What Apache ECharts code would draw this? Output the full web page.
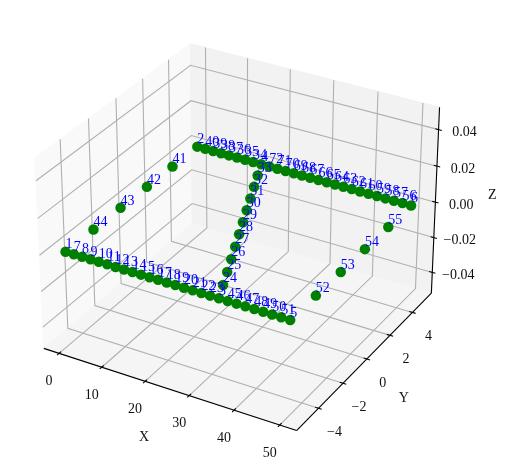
<!DOCTYPE html>
<html><head><meta charset="utf-8">
<style>html,body{margin:0;padding:0;background:#fff}#c{width:505px;height:471px}</style>
<script src="https://cdn.jsdelivr.net/npm/echarts@6/dist/echarts.min.js"></script>
</head><body><div id="c"></div>
<script>
// Node numbers and coordinates
const nodeIds = [1,2,3,4,5,6,7,8,9,10,11,12,13,14,15,16,17,18,19,20,21,22,23,24,25,26,27,28,29,30,31,32,33,34,35,36,37,38,39,40,41,42,43,44,45,46,47,48,49,50,51,52,53,54,55,56,57,58,59,60,61,62,63,64,65,66,67,68,69,70,71,72];
const nodeX = [0,0,34.62,15.38,50,50,
  1.92,3.85,5.77,7.69,9.62,11.54,13.46,15.38,17.31,19.23,21.15,23.08,25,26.92,28.85,30.77,32.69,
  32.87,31.12,29.37,27.62,25.87,24.13,22.38,20.63,18.88,17.13,
  13.46,11.54,9.62,7.69,5.77,3.85,1.92,
  0,0,0,0,
  36.54,38.46,40.38,42.31,44.23,46.15,48.08,
  50,50,50,50,
  48.08,46.15,44.23,42.31,40.38,38.46,36.54,34.62,32.69,30.77,28.85,26.92,25,23.08,21.15,19.23,17.31];
const nodeY = [-5,5,-5,5,-5,5,
  -5,-5,-5,-5,-5,-5,-5,-5,-5,-5,-5,-5,-5,-5,-5,-5,-5,
  -4.09,-3.18,-2.27,-1.36,-0.45,0.45,1.36,2.27,3.18,4.09,
  5,5,5,5,5,5,5,
  3,1,-1,-3,
  -5,-5,-5,-5,-5,-5,-5,
  -3,-1,1,3,
  5,5,5,5,5,5,5,5,5,5,5,5,5,5,5,5,5];
const nodeZ = [0,0,0,0,0,0,0,0,0,0,0,0,0,0,0,0,0,0,0,0,0,0,0,0,0,0,0,0,0,0,0,0,0,0,0,0,0,0,0,0,0,0,0,0,0,0,0,0,0,0,0,0,0,0,0,0,0,0,0,0,0,0,0,0,0,0,0,0,0,0,0,0];

const xTicks = [0,10,20,30,40,50];
const yTicks = [-4,-2,0,2,4];
const zTicks = [-0.04,-0.02,0,0.02,0.04];
const xTickLabels = ['0','10','20','30','40','50'];
const yTickLabels = ['\u22124','\u22122','0','2','4'];
const zTickLabels = ['\u22120.04','\u22120.02','0.00','0.02','0.04'];
const xPane = [-3.646,53.646];
const yPane = [-5.729,5.729];
const zPane = [-0.05208,0.05208];

// Matplotlib-style perspective (elev 30, azim -60, box aspect 4:4:3)
const box = [1.1429,1.1429,0.8571];
const u = [0.8660,0.5,0], v = [-0.25,0.4330,0.8660], w = [0.4330,-0.75,0.5];
const dist = 10;
function proj(p){
  const d = [
    ((p[0]-xPane[0])/(xPane[1]-xPane[0])-0.5)*box[0],
    ((p[1]-yPane[0])/(yPane[1]-yPane[0])-0.5)*box[1],
    ((p[2]-zPane[0])/(zPane[1]-zPane[0])-0.5)*box[2]];
  const dot=(a,b)=>a[0]*b[0]+a[1]*b[1]+a[2]*b[2];
  const den = dist-dot(w,d);
  return [dot(u,d)/den, dot(v,d)/den];
}
const [x0,x1]=xPane,[y0,y1]=yPane,[z0,z1]=zPane;
const panes = [
  {c:'#f9f9f9',p:[[x0,y0,z0],[x0,y0,z1],[x0,y1,z1],[x0,y1,z0]]},
  {c:'#f2f2f2',p:[[x0,y1,z0],[x1,y1,z0],[x1,y1,z1],[x0,y1,z1]]},
  {c:'#f5f5f5',p:[[x0,y0,z0],[x1,y0,z0],[x1,y1,z0],[x0,y1,z0]]}
];
const gridLines = [];
xTicks.forEach(t=>gridLines.push([[t,y0,z0],[t,y1,z0],[t,y1,z1]]));
yTicks.forEach(t=>gridLines.push([[x1,t,z0],[x0,t,z0],[x0,t,z1]]));
zTicks.forEach(t=>gridLines.push([[x0,y0,t],[x0,y1,t],[x1,y1,t]]));
const axisLines = [
  [[x0,y0,z0],[x1,y0,z0]],
  [[x1,y0,z0],[x1,y1,z0]],
  [[x1,y1,z0],[x1,y1,z1]]
];
const tk = 0.0125, dy=(y1-y0)*tk, dx=(x1-x0)*tk;
xTicks.forEach(t=>axisLines.push([[t,y0+dy,z0],[t,y0-dy,z0]]));
yTicks.forEach(t=>axisLines.push([[x1-dx,t,z0],[x1+dx,t,z0]]));
zTicks.forEach(t=>axisLines.push([[x1-dx,y1,t],[x1+dx,y1,t]]));

const dots = nodeIds.map((id,i)=>proj([nodeX[i],nodeY[i],nodeZ[i]]));
const font = 'Liberation Serif';
const lineSeries=(list,color,z)=>({
  type:'custom',coordinateSystem:'cartesian2d',clip:false,silent:true,z,
  data:list.map((_,i)=>[i]),encode:{x:0,y:0},
  renderItem:(params,api)=>({type:'polyline',
    shape:{points:list[api.value(0)].map(p=>api.coord(proj(p)))},
    style:{stroke:color,lineWidth:1.1,fill:null}})
});
const textSeries=(items,off,color,z,align)=>({
  type:'scatter',symbolSize:0,silent:true,z,clip:false,itemStyle:{opacity:1},
  data:items.map(t=>({value:proj(t.p),label:{formatter:t.s}})),
  label:{show:true,position:'inside',align:align||'center',verticalAlign:'middle',offset:off,
    fontFamily:font,fontSize:14,color,opacity:1}
});
const black='#111';
const option={
  animation:false,backgroundColor:'#fff',
  grid:{left:0,right:0,top:0,bottom:0,containLabel:false},
  xAxis:{type:'value',show:false,min:-0.09507,max:0.10414},
  yAxis:{type:'value',show:false,min:-0.09578,max:0.09002},
  series:[
    {type:'custom',coordinateSystem:'cartesian2d',clip:false,silent:true,z:1,
     data:panes.map((_,i)=>[i]),encode:{x:0,y:0},
     renderItem:(params,api)=>{const P=panes[api.value(0)];
       return {type:'polygon',shape:{points:P.p.map(p=>api.coord(proj(p)))},style:{fill:P.c,stroke:P.c}};}},
    lineSeries(gridLines,'#b0b0b0',2),
    lineSeries(axisLines,'#000',3),
    textSeries(xTicks.map((t,i)=>({p:[t,y0,z0],s:xTickLabels[i]})),[-10,28],black,4),
    textSeries(yTicks.map((t,i)=>({p:[x1,t,z0],s:yTickLabels[i]})),[16,24],black,4),
    textSeries(zTicks.map((t,i)=>({p:[x1,y1,t],s:zTickLabels[i]})),[26,3],black,4),
    textSeries([{p:[25,y0,z0],s:'X'}],[-23,49],black,4),
    textSeries([{p:[x1,0,z0],s:'Y'}],[37,39],black,4),
    textSeries([{p:[x1,y1,0],s:'Z'}],[57,-7],black,4),
    {type:'scatter',symbol:'circle',symbolSize:10.5,z:5,clip:false,silent:true,
     itemStyle:{color:'#008000',opacity:1},data:dots},
    {type:'scatter',symbolSize:0,z:6,clip:false,silent:true,itemStyle:{opacity:1},
     data:nodeIds.map((id,i)=>({value:dots[i],label:{formatter:String(id)}})),
     label:{show:true,position:'inside',align:'left',verticalAlign:'bottom',offset:[0,0],
       fontFamily:font,fontSize:14,color:'#0000ff',opacity:1}}
  ]
};
echarts.init(document.getElementById('c'),null,{renderer:'canvas'}).setOption(option);
</script></body></html>
